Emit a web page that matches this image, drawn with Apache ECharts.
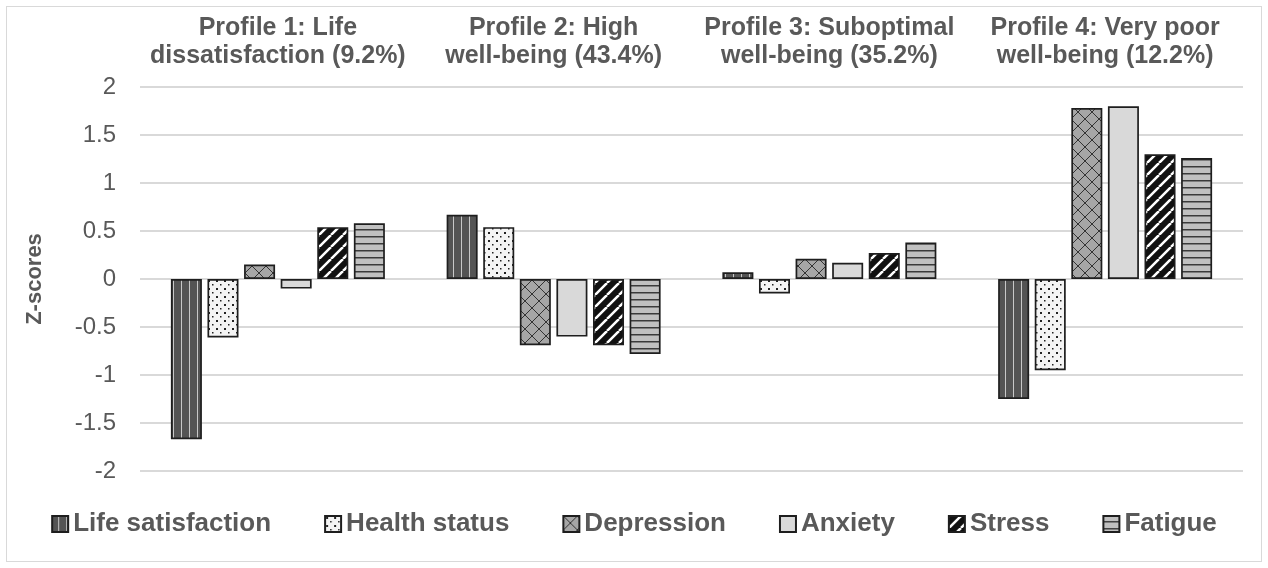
<!DOCTYPE html>
<html>
<head>
<meta charset="utf-8">
<script src="https://cdn.jsdelivr.net/npm/echarts@6/dist/echarts.min.js"></script>
<style>
  html, body { margin: 0; padding: 0; background: #fff; }
  #chart {
    position: absolute; left: 6px; top: 6px;
    width: 1254px; height: 554px;
    border: 1px solid #d9d9d9;
  }
</style>
</head>
<body>
<div id="chart"></div>
<script>
  const profiles = [
    'Profile 1: Life\ndissatisfaction (9.2%)',
    'Profile 2: High\nwell-being (43.4%)',
    'Profile 3: Suboptimal\nwell-being (35.2%)',
    'Profile 4: Very poor\nwell-being (12.2%)'
  ];
  const lifeSatisfaction = [-1.67, 0.67, 0.07, -1.25];
  const healthStatus = [-0.61, 0.54, -0.15, -0.95];
  const depression = [0.15, -0.69, 0.21, 1.78];
  const anxiety = [-0.10, -0.60, 0.17, 1.80];
  const stress = [0.54, -0.69, 0.27, 1.30];
  const fatigue = [0.58, -0.78, 0.38, 1.26];

  // small canvas tiles used as pattern fills
  function tile(w, h, draw) {
    const c = document.createElement('canvas');
    c.width = w; c.height = h;
    draw(c.getContext('2d'), w, h);
    return { image: c, repeat: 'repeat' };
  }

  const patLife = tile(8, 8, (g, w, h) => {
    g.fillStyle = '#545454'; g.fillRect(0, 0, w, h);
    g.fillStyle = '#c8c8c8'; g.fillRect(6, 0, 1, h);
  });
  const patHealth = tile(8, 8, (g, w, h) => {
    g.fillStyle = '#f4f4f4'; g.fillRect(0, 0, w, h);
    g.fillStyle = '#222';
    g.fillRect(1, 1, 2, 2);
    g.fillRect(5, 5, 1.5, 1.5);
  });
  const patDep = tile(14, 14, (g, w, h) => {
    g.fillStyle = '#a6a6a6'; g.fillRect(0, 0, w, h);
    g.strokeStyle = '#333'; g.lineWidth = 1;
    g.beginPath();
    g.moveTo(0, 0); g.lineTo(w, h);
    g.moveTo(w, 0); g.lineTo(0, h);
    g.stroke();
  });
  const patStress = tile(12, 12, (g, w, h) => {
    g.fillStyle = '#111'; g.fillRect(0, 0, w, h);
    g.strokeStyle = '#fff'; g.lineWidth = 2.5;
    g.beginPath();
    for (let k = -1; k <= 1; k++) {
      g.moveTo(k * w, h); g.lineTo(k * w + w, 0);
    }
    g.stroke();
  });
  const patFatigue = tile(8, 7, (g, w, h) => {
    g.fillStyle = '#c0c0c0'; g.fillRect(0, 0, w, h);
    g.fillStyle = '#3a3a3a'; g.fillRect(0, 5, w, 1.5);
  });

  const border = { borderColor: '#1e1e1e', borderWidth: 1.7 };
  function bar(name, data, color) {
    return {
      name: name, type: 'bar', data: data,
      barGap: '18%', barCategoryGap: '22.4%',
      itemStyle: Object.assign({ color: color }, border)
    };
  }

  const chart = echarts.init(document.getElementById('chart'));
  chart.setOption({
    animation: false,
    textStyle: { fontFamily: 'Liberation Sans, Arial, sans-serif', color: '#595959' },
    grid: { left: 133, right: 18, top: 80, bottom: 90 },
    legend: {
      bottom: 19, left: 'center', itemGap: 53,
      itemWidth: 16, itemHeight: 16, icon: 'rect',
      textStyle: { fontSize: 26, fontWeight: 'bold', color: '#595959' },
      data: ['Life satisfaction', 'Health status', 'Depression', 'Anxiety', 'Stress', 'Fatigue']
    },
    xAxis: {
      type: 'category', position: 'top', data: profiles,
      axisLine: { show: false }, axisTick: { show: false },
      axisLabel: { interval: 0, fontSize: 25, fontWeight: 'bold', lineHeight: 28, color: '#595959', margin: 17 }
    },
    yAxis: {
      type: 'value', min: -2, max: 2, interval: 0.5,
      name: 'Z-scores', nameLocation: 'middle', nameGap: 94, nameRotate: 90,
      nameTextStyle: { fontSize: 22, fontWeight: 'bold', color: '#595959' },
      axisLabel: { fontSize: 24, color: '#595959', margin: 24 },
      splitLine: { lineStyle: { color: '#d9d9d9', width: 2 } }
    },
    series: [
      bar('Life satisfaction', lifeSatisfaction, patLife),
      bar('Health status', healthStatus, patHealth),
      bar('Depression', depression, patDep),
      bar('Anxiety', anxiety, '#d9d9d9'),
      bar('Stress', stress, patStress),
      bar('Fatigue', fatigue, patFatigue)
    ]
  });
</script>
</body>
</html>
